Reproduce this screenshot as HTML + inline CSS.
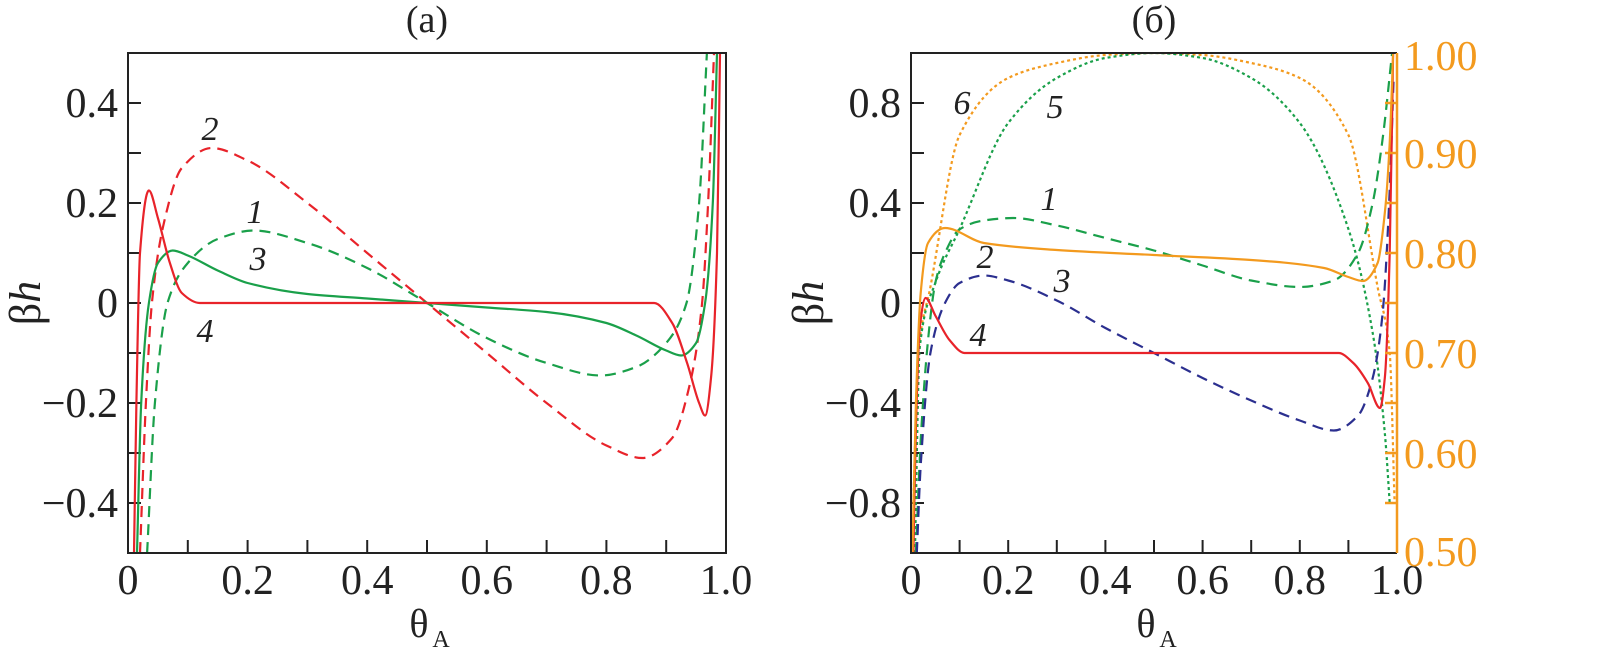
<!DOCTYPE html>
<html><head><meta charset="utf-8"><style>
body{margin:0;background:#fff}
svg{display:block;font-family:"Liberation Serif",serif}
</style></head><body>
<svg id="chart" width="1608" height="666" viewBox="0 0 1608 666">
<defs>
<clipPath id="clipA"><rect x="128" y="53" width="598" height="500"/></clipPath>
<clipPath id="clipB"><rect x="911" y="53" width="486" height="500"/></clipPath>
</defs>
<g id="gA"></g>
<g id="gB"></g>
</svg>
<script>
// Panel (a) data: [theta, beta*h]
const a_curve1 = [[0.032,-0.5],[0.045,-0.2],[0.066,0],[0.1,0.08],[0.15,0.128],[0.21,0.145],[0.3,0.12],[0.4,0.07],[0.5,0],[0.6,-0.07],[0.7,-0.12],[0.79,-0.145],[0.85,-0.128],[0.9,-0.08],[0.934,0],[0.955,0.2],[0.968,0.5]];
const a_curve2 = [[0.02,-0.5],[0.03,-0.2],[0.04,0],[0.06,0.16],[0.09,0.27],[0.14,0.31],[0.2,0.285],[0.3,0.2],[0.4,0.1],[0.5,0],[0.6,-0.1],[0.7,-0.2],[0.8,-0.285],[0.86,-0.31],[0.91,-0.27],[0.94,-0.16],[0.96,0],[0.97,0.2],[0.98,0.5]];
const a_curve3 = [[0.015,-0.5],[0.022,-0.2],[0.035,0],[0.05,0.08],[0.075,0.105],[0.1,0.095],[0.15,0.065],[0.2,0.04],[0.3,0.018],[0.4,0.009],[0.5,0],[0.6,-0.009],[0.7,-0.018],[0.8,-0.04],[0.85,-0.065],[0.9,-0.095],[0.925,-0.105],[0.95,-0.08],[0.965,0],[0.978,0.2],[0.985,0.5]];
const a_curve4 = [[0.01,-0.5],[0.014,-0.2],[0.02,0.1],[0.035,0.225],[0.05,0.17],[0.07,0.08],[0.09,0.02],[0.12,0],[0.5,0],[0.88,0],[0.91,-0.04],[0.935,-0.12],[0.955,-0.2],[0.965,-0.225],[0.975,-0.15],[0.985,0.1],[0.99,0.5]];
// Panel (b) left axis data
const b_curve1 = [[0.01,-1],[0.02,-0.55],[0.035,-0.15],[0.05,0.08],[0.07,0.2],[0.1,0.295],[0.15,0.33],[0.21,0.34],[0.3,0.31],[0.4,0.26],[0.5,0.21],[0.6,0.15],[0.7,0.09],[0.8,0.064],[0.87,0.09],[0.92,0.2],[0.95,0.4],[0.97,0.65],[0.99,1.0]];
const b_curve3 = [[0.012,-1],[0.02,-0.65],[0.04,-0.2],[0.07,0.0],[0.1,0.08],[0.15,0.11],[0.2,0.09],[0.3,0.01],[0.4,-0.1],[0.5,-0.2],[0.6,-0.3],[0.7,-0.39],[0.8,-0.47],[0.87,-0.51],[0.92,-0.45],[0.95,-0.3],[0.97,-0.05],[0.985,0.45],[0.993,0.9]];
const b_curve4 = [[0.005,-1],[0.01,-0.5],[0.018,-0.1],[0.03,0.02],[0.05,-0.05],[0.08,-0.15],[0.11,-0.2],[0.5,-0.2],[0.88,-0.2],[0.91,-0.24],[0.94,-0.32],[0.965,-0.42],[0.975,-0.3],[0.985,0.2],[0.992,1.0]];
// Panel (b) right axis data
const b_curve2 = [[0.003,0.5],[0.01,0.65],[0.02,0.76],[0.035,0.81],[0.07,0.825],[0.15,0.81],[0.3,0.803],[0.5,0.798],[0.7,0.793],[0.85,0.785],[0.9,0.776],[0.93,0.772],[0.96,0.79],[0.975,0.84],[0.985,0.91],[0.992,1.0]];
const b_curve5 = [[0.008,0.5],[0.018,0.705],[0.05,0.77],[0.1,0.824],[0.2,0.93],[0.3,0.975],[0.4,0.995],[0.5,1.0],[0.6,0.995],[0.7,0.975],[0.8,0.93],[0.9,0.824],[0.95,0.72],[0.975,0.62],[0.985,0.55]];
const b_curve6 = [[0.005,0.55],[0.015,0.7],[0.04,0.766],[0.1,0.918],[0.2,0.975],[0.3,0.99],[0.4,0.998],[0.5,1.0],[0.6,0.998],[0.7,0.99],[0.8,0.975],[0.9,0.918],[0.96,0.766],[0.985,0.7],[0.995,0.55]];
const xTickLabels = ["0","0.2","0.4","0.6","0.8","1.0"];
const aYTickLabels = ["0.4","0.2","0","\u22120.2","\u22120.4"];
const bYTickLabels = ["0.8","0.4","0","\u22120.4","\u22120.8"];
const bRightTickLabels = ["0.50","0.60","0.70","0.80","0.90","1.00"];

const NS="http://www.w3.org/2000/svg";
function mk(tag,attrs,parent){const e=document.createElementNS(NS,tag);for(const k in attrs)e.setAttribute(k,attrs[k]);parent.appendChild(e);return e;}
function lin(d0,d1,r0,r1){return v=>r0+(v-d0)/(d1-d0)*(r1-r0);}
// monotone cubic (Fritsch-Carlson) in pixel space
function pathD(pts,fx,fy){
  const p=pts.map(q=>[fx(q[0]),fy(q[1])]);
  const n=p.length, d=[], m=[];
  for(let i=0;i<n-1;i++)d.push((p[i+1][1]-p[i][1])/(p[i+1][0]-p[i][0]));
  m[0]=d[0];m[n-1]=d[n-2];
  for(let i=1;i<n-1;i++){ if(d[i-1]*d[i]<=0)m[i]=0; else { const h0=p[i][0]-p[i-1][0],h1=p[i+1][0]-p[i][0];
    const w1=2*h1+h0,w2=h1+2*h0; m[i]=(w1+w2)/(w1/d[i-1]+w2/d[i]); } }
  let s="M"+p[0][0].toFixed(1)+","+p[0][1].toFixed(1);
  for(let i=0;i<n-1;i++){
    const h=(p[i+1][0]-p[i][0])/3;
    s+="C"+(p[i][0]+h).toFixed(1)+","+(p[i][1]+m[i]*h).toFixed(1)+" "+(p[i+1][0]-h).toFixed(1)+","+(p[i+1][1]-m[i+1]*h).toFixed(1)+" "+p[i+1][0].toFixed(1)+","+p[i+1][1].toFixed(1);
  }
  return s;
}
function txt(parent,x,y,s,opts){const t=mk("text",Object.assign({x:x,y:y},opts||{}),parent);t.textContent=s;return t;}

function axes(g,L,R,T,B,yMin,yMax,yStep,yLabels,yLabelStep,titleStr,name){
  const fx=lin(0,1,L,R), fy=lin(yMin,yMax,B,T);
  for(let i=1;i<10;i++){const l=mk("line",{x1:fx(i/10),x2:fx(i/10),y1:B,y2:B-13,stroke:"#222","stroke-width":2},g);
    
    }
  xTickLabels.forEach((s,i)=>{const t=txt(g,fx(i*0.2),594,s,{"font-size":42,"text-anchor":"middle",fill:"#222"});
    
    });
  const n=Math.round((yMax-yMin)/yStep);
  for(let i=1;i<n;i++){const v=yMin+i*yStep;const l=mk("line",{x1:L,x2:L+13,y1:fy(v),y2:fy(v),stroke:"#222","stroke-width":2},g);
    
    }
  yLabels.forEach((s,i)=>{const v=yMax-yLabelStep/2-i*yLabelStep;const t=txt(g,L-10,fy(v)+14,s,{"font-size":42,"text-anchor":"end",fill:"#222"});
    
    });
  const tt=txt(g,(L+R)/2,32,titleStr,{"font-size":38,"text-anchor":"middle",fill:"#222"});
  
  
  const xl=txt(g,(L+R)/2-8,637,"\u03B8",{"font-size":40,"text-anchor":"middle",fill:"#222"});
  
  
  const sub=txt(g,(L+R)/2+14,647,"A",{"font-size":24,"text-anchor":"middle",fill:"#222"});
  
  
  const yl=mk("text",{x:0,y:0,transform:"translate("+(L-88)+",303) rotate(-90)","font-size":44,"text-anchor":"middle",fill:"#222"},g);
  yl.innerHTML='\u03B2<tspan font-style="italic">h</tspan>';
  
  
  return {fx,fy};
}
function curve(g,pts,fx,fy,color,dash,clip,name){
  const p=mk("path",{d:pathD(pts,fx,fy),fill:"none",stroke:color,"stroke-width":2.2,"clip-path":"url(#"+clip+")"},g);
  if(dash)p.setAttribute("stroke-dasharray",dash);
  
  
}
function label(g,x,y,s){const t=txt(g,x,y,s,{"font-size":34,"font-style":"italic","text-anchor":"middle",fill:"#222"});
  
  }

const RED="#e8232a",GREEN="#1aa04a",BLUE="#2b2f8f",ORANGE="#f39a1e";
// Panel A
const gA=document.getElementById("gA");
const A=axes(gA,128,726,53,553,-0.5,0.5,0.1,aYTickLabels,0.2,"(a)","panel-a");
curve(gA,a_curve2,A.fx,A.fy,RED,"11,7","clipA","curve-2");
curve(gA,a_curve1,A.fx,A.fy,GREEN,"11,7","clipA","curve-1");
curve(gA,a_curve3,A.fx,A.fy,GREEN,null,"clipA","curve-3");
curve(gA,a_curve4,A.fx,A.fy,RED,null,"clipA","curve-4");
const fA=mk("rect",{x:128,y:53,width:598,height:500,fill:"none",stroke:"#222","stroke-width":2},gA);


label(gA,210,140,"2");label(gA,255,223,"1");label(gA,258,270,"3");label(gA,205,342,"4");

// Panel B
const gB=document.getElementById("gB");
const B=axes(gB,911,1397,53,553,-1,1,0.2,bYTickLabels,0.4,"(\u0431)","panel-b");
const fyR=lin(0.5,1.0,553,53);
curve(gB,b_curve6,B.fx,fyR,ORANGE,"3,3","clipB","curve-6");
curve(gB,b_curve5,B.fx,fyR,GREEN,"3,3","clipB","curve-5");
curve(gB,b_curve1,B.fx,B.fy,GREEN,"11,7","clipB","curve-1");
curve(gB,b_curve3,B.fx,B.fy,BLUE,"11,7","clipB","curve-3");
curve(gB,b_curve4,B.fx,B.fy,RED,null,"clipB","curve-4");
curve(gB,b_curve2,B.fx,fyR,ORANGE,null,"clipB","curve-2");
mk("path",{d:"M1397,53 L911,53 L911,553 L1397,553",fill:"none",stroke:"#222","stroke-width":2},gB);
const ra=mk("line",{x1:1397,x2:1397,y1:53,y2:553,stroke:ORANGE,"stroke-width":2.5},gB);


for(let i=1;i<10;i++){const v=0.5+i*0.05;const l=mk("line",{x1:1397,x2:1385,y1:fyR(v),y2:fyR(v),stroke:ORANGE,"stroke-width":2.5},gB);
  
  }
bRightTickLabels.forEach((s,i)=>{const v=0.5+i*0.1;const t=txt(gB,1404,Math.min(Math.max(fyR(v)+15,70),566),s,{"font-size":42,fill:ORANGE});
  
  });
label(gB,962,114,"6");label(gB,1055,118,"5");label(gB,1049,210,"1");label(gB,985,268,"2");label(gB,1062,292,"3");label(gB,978,346,"4");
</script>
</body></html>
